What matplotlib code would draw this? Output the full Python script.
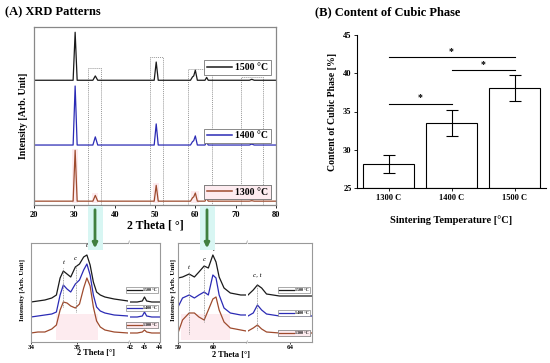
import numpy as np
import matplotlib.pyplot as plt
from matplotlib.patches import Rectangle, FancyArrowPatch
from matplotlib.lines import Line2D

plt.rcParams['font.family'] = ['Liberation Serif', 'DejaVu Serif']
plt.rcParams['font.weight'] = 'bold'

W, H = 550, 363

# ---- data ----
temps = ['1500 °C', '1400 °C', '1300 °C']
colors = ['#1a1a1a', '#2b2bb5', '#9e4b2e']

# full XRD patterns (2theta, intensity above baseline)
theta_main = [20, 29.7, 30.2, 30.7, 34.6, 35.2, 35.8, 49.8, 50.3, 50.8,
              58.8, 59.3, 59.6, 60.0, 60.5, 62.4, 62.8, 63.2, 73.4, 74.0, 74.6, 80]
int_main = [
    [0, 0, 100, 0, 0, 9, 0, 0, 38, 0, 0, 7, 9, 21, 0, 0, 6, 0, 0, 2, 0, 0],
    [0, 0, 123, 0, 0, 17, 0, 0, 44, 0, 0, 7, 9, 19, 0, 0, 6, 0, 0, 2, 0, 0],
    [0, 0, 106, 0, 0, 12, 0, 0, 33, 0, 0, 7, 9, 17, 0, 0, 6, 0, 0, 1, 0, 0],
]
boxes_main = [(33.4, 36.6, 285), (48.8, 52.0, 308), (58.2, 64.1, 283), (71.3, 76.8, 266)]

# zoom 34-36 / 42-44
theta_a1 = [34.0, 34.15, 34.3, 34.45, 34.55, 34.63, 34.7, 34.78, 34.86, 34.96,
            35.05, 35.14, 35.21, 35.28, 35.35, 35.42, 35.5, 35.6, 35.8, 36.1]
int_a1 = [
    [0, 1, 2, 4, 7, 24, 31, 28, 25, 35, 38, 45, 47, 37, 20, 10, 7, 5, 3, 1],
    [0, 1, 2, 3, 5, 22, 32, 28, 25, 33, 37, 47, 53, 42, 22, 10, 6, 4, 2, 1],
    [0, 1, 1, 4, 8, 23, 31, 30, 27, 25, 29, 45, 55, 47, 26, 12, 6, 3, 1, 0],
]
theta_a2 = [42.0, 42.5, 42.85, 43.0, 43.15, 43.5, 44.07]
int_a2 = [
    [0, 0, 1, 5, 1, 0, 0],
    [0, 0, 1, 5, 1, 0, 0],
    [0, 0, 1, 3, 1, 0, 0],
]

# zoom 59-61 / 63-64.6
theta_b1 = [59.0, 59.13, 59.32, 59.47, 59.6, 59.75, 59.87, 60.0, 60.09, 60.18,
            60.32, 60.5, 60.8, 60.95]
int_b1 = [
    [18, 19, 22, 19, 24, 30, 28, 41, 34, 19, 8, 3, 1, 1],
    [9, 18, 21, 18, 21, 24, 21, 41, 38, 21, 8, 3, 1, 1],
    [0, 13, 20, 20, 16, 13, 23, 34, 36, 23, 11, 5, 3, 2],
]
theta_b2 = [62.8, 62.95, 63.07, 63.19, 63.33, 63.7, 64.63]
int_b2 = [
    [1, 6, 11, 8, 2, 0, 0],
    [0, 3, 11, 6, 2, 0, 0],
    [2, 5, 8, 4, 1, 0, 0],
]

# cubic phase content
bar_labels = ['1300 C', '1400 C', '1500 C']
cubic = [28.1, 33.5, 38.1]
cubic_err = [1.2, 1.75, 1.7]
sig_pairs = [(0, 2, 42.1), (1, 2, 40.4), (0, 1, 36.0)]

B = 'bold'


def fbox(x0, y0, x1, y1):
    return [x0 / W, 1 - y1 / H, (x1 - x0) / W, (y1 - y0) / H]


def bold_ticks(a):
    for t in a.get_xticklabels() + a.get_yticklabels():
        t.set_fontweight(B)


fig = plt.figure(figsize=(5.5, 3.63), dpi=100)

# ---- (A) main XRD ----
ax = fig.add_axes(fbox(34, 27, 276, 205))
off_main = [260, 125, 8]
pink = '#fdebef'
for (x0, x1, top) in boxes_main:
    ax.plot([x0, x0, x1, x1], [0, top, top, 0], color='#999999', lw=0.7, ls=(0, (1, 1)))
for (x0, x1, top) in [(29.4, 31.0, 112), (34.5, 35.9, 20), (49.6, 51.0, 42), (58.9, 60.9, 26)]:
    ax.add_patch(Rectangle((x0, 4), x1 - x0, top, facecolor=pink, edgecolor='none', zorder=0))
for k in range(3):
    y = np.array(int_main[k]) + off_main[k]
    ax.plot(theta_main, y, color=colors[k], lw=0.9)
ax.set_xlim(20, 80)
ax.set_ylim(0, 371)
ax.set_yticks([])
ax.set_xticks(range(20, 81, 10))
ax.tick_params(axis='x', labelsize=6, length=2, width=0.6, pad=2)
bold_ticks(ax)
for s in ax.spines.values():
    s.set_color('#888888')
    s.set_linewidth(0.9)
ax.set_xlabel('2 Theta [ °]', fontsize=8.5, fontweight=B, labelpad=1)
ax.set_ylabel('Intensity [Arb. Unit]', fontsize=7, fontweight=B, labelpad=4)
for k, yf in zip(range(3), [0.772, 0.388, 0.073]):
    h = Line2D([], [], color=colors[k], lw=1.1)
    leg = ax.legend([h], [temps[k]], loc='center right', bbox_to_anchor=(1.0, yf),
                    prop={'size': 7, 'weight': B}, handlelength=2.6, borderpad=0.3,
                    handletextpad=0.3, fancybox=False, framealpha=1,
                    edgecolor='#777777', facecolor=pink if k == 2 else 'white')
    leg.get_frame().set_linewidth(0.6)
    ax.add_artist(leg)

fig.text(5 / W, 1 - 12 / H, '(A) XRD Patterns', fontsize=9, fontweight=B, va='center')

# arrows to insets
for xa in [95, 207]:
    fig.patches.append(Rectangle(((xa - 7) / W, 1 - 250 / H), 15 / W, 44 / H,
                                 transform=fig.transFigure, facecolor='#d8f6f3',
                                 edgecolor='none'))
    fig.patches.append(FancyArrowPatch((xa / W, 1 - 207 / H), (xa / W, 1 - 251 / H),
                                       transform=fig.transFigure, arrowstyle='-|>',
                                       mutation_scale=7, color='#3f7f3f', lw=2))


def inset(rect1, rect2, th1, th2, i1, i2, offs, xl1, xl2, ticks1, ticks2):
    a1 = fig.add_axes(fbox(*rect1))
    a2 = fig.add_axes(fbox(*rect2))
    for k in range(3):
        a1.plot(th1, np.array(i1[k]) + offs[k], color=colors[k], lw=0.9)
        a2.plot(th2, np.array(i2[k]) + offs[k], color=colors[k], lw=0.9)
    for a, xl, tk in [(a1, xl1, ticks1), (a2, xl2, ticks2)]:
        a.set_xlim(*xl)
        a.set_ylim(0, 99)
        a.set_yticks([])
        a.set_xticks(tk)
        a.tick_params(axis='x', labelsize=5, length=1.5, width=0.5, pad=1)
        bold_ticks(a)
        for s in a.spines.values():
            s.set_color('#999999')
            s.set_linewidth(0.8)
    a1.spines['right'].set_visible(False)
    a2.spines['left'].set_visible(False)
    xb = rect1[2] + 1
    for yb in [rect1[1], rect1[3]]:
        fig.text(xb / W, 1 - yb / H, '//', fontsize=4, color='#999999',
                 ha='center', va='center')
    return a1, a2


# inset 34-44
la1, la2 = inset((31, 243, 128, 342), (130, 243, 160, 342), theta_a1, theta_a2,
                 int_a1, int_a2, [40, 25, 9], (34, 36.1), (42, 44.07), [34, 35], [42, 43, 44])
la1.add_patch(Rectangle((34.55, 2), 0.9, 26, facecolor=pink, edgecolor='none', zorder=0))
for xv, y0, y1 in [(34.7, 35, 74), (34.97, 30, 78)]:
    la1.plot([xv, xv], [y0, y1], color='#888888', lw=0.6, ls=(0, (1, 1)))
for xv, yv, s in [(34.7, 77, 't'), (34.97, 81, 'c'), (35.21, 94, 't')]:
    la1.text(xv, yv, s, fontsize=5, style='italic', fontweight='normal', ha='center', va='bottom')
fig.text(96 / W, 1 - 353 / H, '2 Theta [°]', fontsize=6, fontweight=B, ha='center', va='center')
fig.text(22 / W, 1 - 290 / H, 'Intensity [Arb. Unit]', fontsize=5, fontweight=B,
         ha='center', va='center', rotation=90)

# inset 59-64
ra1, ra2 = inset((178, 243, 246, 342), (248, 243, 312, 342), theta_b1, theta_b2,
                 int_b1, int_b2, [46, 26, 9], (59, 60.95), (62.8, 64.63), [59, 60], [64])
ra1.add_patch(Rectangle((59.1, 2), 1.4, 26, facecolor=pink, edgecolor='none', zorder=0))
for xv, y0, y1 in [(59.32, 8, 70), (59.75, 20, 76), (63.07, 12, 58)]:
    ax_ = ra2 if xv > 62 else ra1
    ax_.plot([xv, xv], [y0, y1], color='#888888', lw=0.6, ls=(0, (1, 1)))
for xv, yv, s in [(59.32, 72, 't'), (59.75, 80, 'c'), (60.03, 90, 't')]:
    ra1.text(xv, yv, s, fontsize=5, style='italic', fontweight='normal', ha='center', va='bottom')
ra2.text(63.07, 64, 'c, t', fontsize=5, style='italic', fontweight='normal', ha='center', va='bottom')
fig.text(231 / W, 1 - 355 / H, '2 Theta [°]', fontsize=6, fontweight=B, ha='center', va='center')
fig.text(173 / W, 1 - 290 / H, 'Intensity [Arb. Unit]', fontsize=5, fontweight=B,
         ha='center', va='center', rotation=90)

for a2, ys in [(la2, [0.525, 0.343, 0.17]), (ra2, [0.525, 0.293, 0.09])]:
    for k in range(3):
        h = Line2D([], [], color=colors[k], lw=0.9)
        leg = a2.legend([h], [temps[k]], loc='center right', bbox_to_anchor=(1.0, ys[k]),
                        prop={'size': 3, 'weight': B}, handlelength=3.5, borderpad=0.3,
                        handletextpad=0.3, fancybox=False, framealpha=1,
                        edgecolor='#888888', facecolor=pink if k == 2 else 'white')
        leg.get_frame().set_linewidth(0.5)
        a2.add_artist(leg)

# ---- (B) cubic phase ----
bx = fig.add_axes(fbox(357, 35, 546, 188))
xpos = np.arange(len(bar_labels))
bx.bar(xpos, np.array(cubic) - 25, bottom=25, width=0.8, color='white',
       edgecolor='black', linewidth=0.8)
bx.errorbar(xpos, cubic, yerr=cubic_err, fmt='none', ecolor='black', elinewidth=0.8,
            capsize=4, capthick=0.8)
for i, j, yv in sig_pairs:
    bx.plot([xpos[i], xpos[j]], [yv, yv], color='black', lw=0.8)
    bx.text((xpos[i] + xpos[j]) / 2, yv + 0.2, '*', fontsize=7, fontweight=B,
            ha='center', va='bottom')
bx.set_xlim(-0.5, 2.5)
bx.set_ylim(25, 45)
bx.set_yticks([25, 30, 35, 40, 45])
bx.set_xticks(xpos)
bx.set_xticklabels(bar_labels)
bx.tick_params(labelsize=6, length=2, width=0.6, pad=2)
bold_ticks(bx)
bx.spines['top'].set_visible(False)
bx.spines['right'].set_visible(False)
bx.set_ylabel('Content of Cubic Phase [%]', fontsize=7, fontweight=B, labelpad=4)
bx.set_xlabel('Sintering Temperature [°C]', fontsize=7.5, fontweight=B, labelpad=10)
fig.text(315 / W, 1 - 12 / H, '(B) Content of Cubic Phase', fontsize=9, fontweight=B,
         va='center')

fig.savefig('out.png', dpi=100)
